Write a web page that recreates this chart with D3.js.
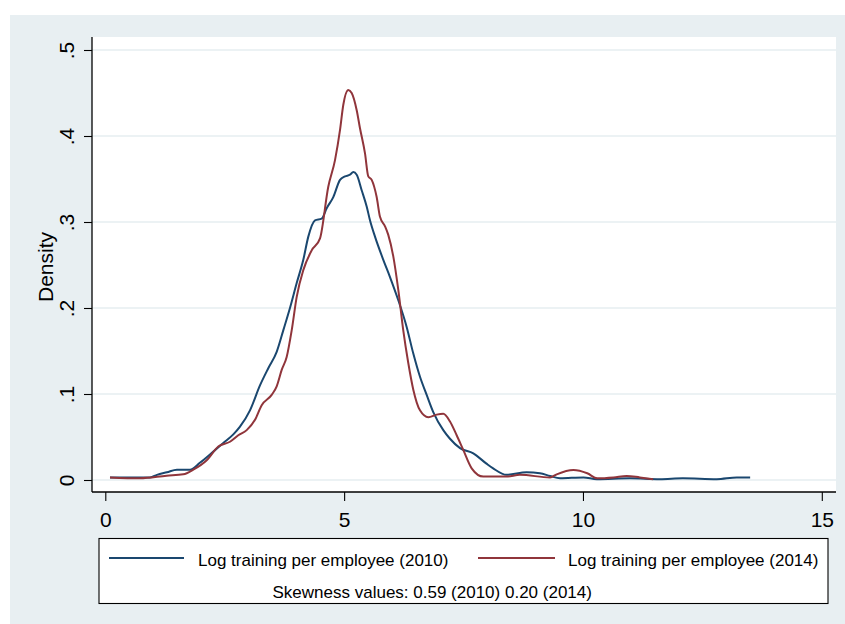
<!DOCTYPE html>
<html><head><meta charset="utf-8">
<script src="https://cdn.jsdelivr.net/npm/d3@7"></script>
<style>body{margin:0;background:#fff}svg{display:block}text{font-family:"Liberation Sans",Arial,sans-serif;fill:#000}</style>
</head><body><svg id="c" width="845" height="624"></svg>
<script>
const xTicks = [0, 5, 10, 15];
const yTicks = [0, 0.1, 0.2, 0.3, 0.4, 0.5];
const yTickLabels = ["0", ".1", ".2", ".3", ".4", ".5"];
const seriesNames = ["Log training per employee (2010)", "Log training per employee (2014)"];
const noteText = "Skewness values: 0.59 (2010) 0.20 (2014)";
const colors = ["#1a476f", "#90353b"];

const x2010 = [0.098,0.517,0.936,1.082,1.29,1.50,1.773,1.98,2.261,2.470,2.680,2.820,3.029,3.238,3.412,3.588,3.726,3.866,4.007,4.145,4.250,4.390,4.530,4.635,4.773,4.914,5.018,5.123,5.192,5.263,5.367,5.472,5.541,5.646,5.820,5.960,6.134,6.309,6.448,6.588,6.728,6.866,7.076,7.216,7.426,7.704,7.98,8.12,8.40,8.82,9.10,9.31,9.52,10.01,10.29,10.98,11.61,12.09,12.80,13.22,13.50];
const d2010 = [0.003,0.003,0.003,0.006,0.009,0.012,0.012,0.020,0.033,0.043,0.053,0.062,0.081,0.110,0.130,0.149,0.174,0.200,0.229,0.256,0.283,0.302,0.304,0.316,0.329,0.349,0.353,0.355,0.358,0.355,0.337,0.318,0.302,0.283,0.256,0.236,0.209,0.178,0.147,0.120,0.099,0.079,0.058,0.048,0.037,0.031,0.019,0.0135,0.006,0.009,0.0078,0.0047,0.002,0.003,0.001,0.002,0.001,0.002,0.001,0.003,0.003];

const x2014 = [0.098,0.726,1.285,1.633,1.842,2.123,2.366,2.610,2.784,2.960,3.134,3.274,3.483,3.588,3.693,3.797,3.902,4.007,4.145,4.321,4.495,4.668,4.809,4.914,4.982,5.087,5.158,5.263,5.332,5.436,5.506,5.577,5.681,5.751,5.856,5.924,6.029,6.134,6.238,6.343,6.448,6.588,6.762,6.937,7.076,7.216,7.356,7.494,7.670,7.913,8.40,8.68,9.31,9.45,9.80,10.09,10.30,10.64,10.915,11.19,11.47];
const d2014 = [0.003,0.002,0.005,0.0066,0.012,0.023,0.039,0.0445,0.052,0.058,0.070,0.087,0.099,0.109,0.128,0.143,0.174,0.213,0.244,0.267,0.281,0.341,0.372,0.407,0.436,0.4535,0.450,0.430,0.409,0.380,0.353,0.349,0.329,0.306,0.295,0.285,0.260,0.221,0.174,0.136,0.105,0.081,0.073,0.076,0.077,0.068,0.052,0.035,0.0136,0.004,0.004,0.006,0.003,0.0066,0.0116,0.0078,0.002,0.003,0.0047,0.003,0.001];

const svg = d3.select("#c");
const W = 845, H = 624;
svg.append("rect").attr("x",10).attr("y",15).attr("width",W-10).attr("height",H-15).attr("fill","#e8eff2");
const pl = 92, pr = 836, pt = 37, pb = 492;
svg.append("rect").attr("x",pl).attr("y",pt).attr("width",pr-pl).attr("height",pb-pt).attr("fill","#fff");

const x = d3.scaleLinear().domain([0,15]).range([105.3, 821.8]);
const y = d3.scaleLinear().domain([0,0.5]).range([480, 50]);

svg.append("g").selectAll("line").data(yTicks).join("line")
  .attr("x1",pl).attr("x2",pr).attr("y1",d=>y(d)).attr("y2",d=>y(d))
  .attr("stroke","#e6eef1").attr("stroke-width",1.6);

const ya = svg.append("g").attr("transform",`translate(${pl},0)`)
  .call(d3.axisLeft(y).tickValues(yTicks).tickSize(8).tickFormat((d,i)=>yTickLabels[i]));
ya.select(".domain").attr("d",`M0,${pt}V${pb}`).attr("stroke","#000").attr("stroke-width",1.3);
ya.selectAll(".tick line").attr("stroke","#000").attr("stroke-width",1.1);
ya.selectAll(".tick text").attr("x",0).attr("y",0).attr("dy",null)
  .attr("transform","translate(-18,0) rotate(-90)")
  .attr("text-anchor","middle").attr("dominant-baseline","auto")
  .style("font-size","21px").style("font-family","Liberation Sans, Arial, sans-serif").attr("fill","#000");
ya.attr("font-size",null).attr("font-family",null);

const xa = svg.append("g").attr("transform",`translate(0,${pb})`)
  .call(d3.axisBottom(x).tickValues(xTicks).tickSize(9).tickFormat(d3.format("d")));
xa.select(".domain").attr("d",`M${pl},0H${pr}`).attr("stroke","#000").attr("stroke-width",1.3);
xa.selectAll(".tick line").attr("stroke","#000").attr("stroke-width",1.1);
xa.selectAll(".tick text").attr("y",35).attr("dy",null).attr("dominant-baseline","auto")
  .style("font-size","21px").style("font-family","Liberation Sans, Arial, sans-serif").attr("fill","#000");
xa.attr("font-size",null).attr("font-family",null);

svg.append("text").attr("transform","translate(53,267) rotate(-90)").attr("text-anchor","middle")
  .style("font-size","21px").text("Density");

const line = d3.line().x(d=>x(d[0])).y(d=>y(d[1])).curve(d3.curveMonotoneX);
const s1 = x2010.map((v,i)=>[v,d2010[i]]);
const s2 = x2014.map((v,i)=>[v,d2014[i]]);
svg.append("path").datum(s1).attr("d",line).attr("fill","none").attr("stroke",colors[0]).attr("stroke-width",2).attr("stroke-linejoin","round");
svg.append("path").datum(s2).attr("d",line).attr("fill","none").attr("stroke",colors[1]).attr("stroke-width",2).attr("stroke-linejoin","round");

const lg = svg.append("g");
lg.append("rect").attr("x",99).attr("y",538.5).attr("width",729).attr("height",65).attr("fill","#fff").attr("stroke","#000").attr("stroke-width",1.1);
const items = [{x1:109,x2:184,tx:198},{x1:478,x2:555,tx:568}];
items.forEach((it,i)=>{
  lg.append("line").attr("x1",it.x1).attr("x2",it.x2).attr("y1",558).attr("y2",558).attr("stroke",colors[i]).attr("stroke-width",2);
  lg.append("text").attr("x",it.tx).attr("y",566).style("font-size","17px").text(seriesNames[i]);
});
lg.append("text").attr("x",272.5).attr("y",598).style("font-size","17px").text(noteText);
</script></body></html>
